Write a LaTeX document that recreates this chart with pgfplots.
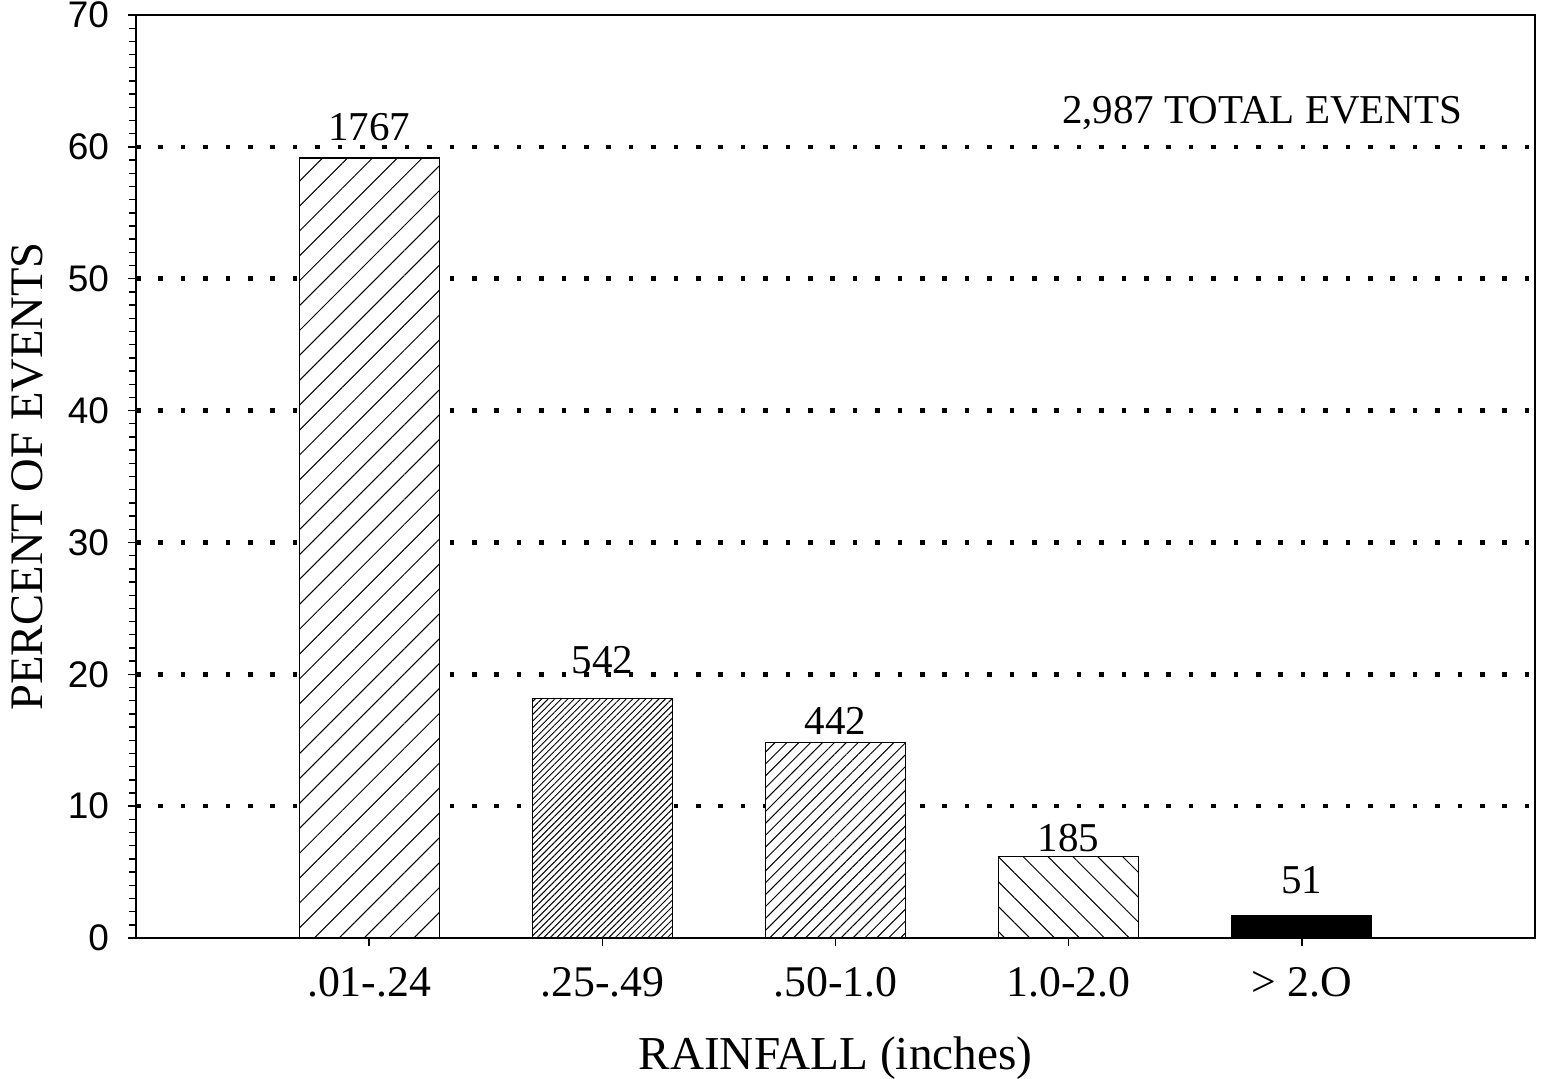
\documentclass[border=0pt]{standalone}
\usepackage{pgfplots}
\pgfplotsset{compat=1.18}
\usepackage{fontspec}
\setmainfont{Liberation Serif}
\newfontfamily\arial{Liberation Sans}
\usetikzlibrary{patterns.meta}
\begin{document}
\begin{tikzpicture}
\begin{axis}[
  scale only axis,
  width=699.5pt, height=461.5pt,
  xmin=0, xmax=6, ymin=0, ymax=70,
  clip=false,
  axis line style={line width=0.7pt},
  tick style={line width=0.7pt, black},
  tick align=outside,
  xtick pos=bottom, ytick pos=left,
  xtick={1,2,3,4,5},
  xticklabels={.01-.24,.25-.49,.50-1.0,1.0-2.0,> 2.O},
  xticklabel style={font=\fontsize{21.9}{24}\selectfont, yshift=-7pt},
  ytick={0,10,...,70},
  minor y tick num=9,
  major tick length=4pt, minor tick length=3.5pt,
  /pgf/number format/assume math mode=true,
  yticklabel style={font=\arial\fontsize{18.5}{21}\selectfont, xshift=-6pt},
  extra y ticks={10,20,30,40,50,60},
  extra y tick labels={},
  extra y tick style={ymajorgrids=true, major tick length=0pt},
  grid style={line width=2.3pt, black, dash pattern=on 2.3pt off 8.9pt},
  xlabel={RAINFALL (inches)},
  ylabel={PERCENT OF EVENTS},
  xlabel style={font=\fontsize{23.6}{27}\selectfont, yshift=-13pt},
  ylabel style={font=\fontsize{23.3}{26}\selectfont, yshift=1.5pt},
  ybar, bar shift=0pt, bar width=0.6,
]
\addplot[draw=black, line width=0.6pt, fill=white, postaction={pattern={Lines[angle=45,distance=8.8pt,line width=0.5pt]}}] coordinates {(1,59.16)};
\addplot[draw=black, line width=0.6pt, fill=white, postaction={pattern={Lines[angle=45,distance=2.3pt,line width=0.5pt]}}] coordinates {(2,18.15)};
\addplot[draw=black, line width=0.6pt, fill=white, postaction={pattern={Lines[angle=45,distance=4.2pt,line width=0.5pt]}}] coordinates {(3,14.80)};
\addplot[draw=black, line width=0.6pt, fill=white, postaction={pattern={Lines[angle=-45,distance=8.8pt,line width=0.5pt]}}] coordinates {(4,6.19)};
\addplot[draw=black, line width=0.6pt, fill=black] coordinates {(5,1.71)};
\node[font=\fontsize{20.5}{23}\selectfont] at (axis cs:1,61.5) {1767};
\node[font=\fontsize{20.5}{23}\selectfont] at (axis cs:2,21.1) {542};
\node[font=\fontsize{20.5}{23}\selectfont] at (axis cs:3,16.5) {442};
\node[font=\fontsize{20.5}{23}\selectfont] at (axis cs:4,7.6) {185};
\node[font=\fontsize{20.5}{23}\selectfont] at (axis cs:5,4.4) {51};
\node[font=\fontsize{20.5}{23}\selectfont] at (axis cs:4.83,62.6) {2,987 TOTAL EVENTS};
\coordinate (bbl) at (rel axis cs:-0.0972,-0.1517);
\coordinate (btr) at (rel axis cs:1.005,1.0163);
\end{axis}
\pgfresetboundingbox
\path (bbl) rectangle (btr);
\end{tikzpicture}
\end{document}
